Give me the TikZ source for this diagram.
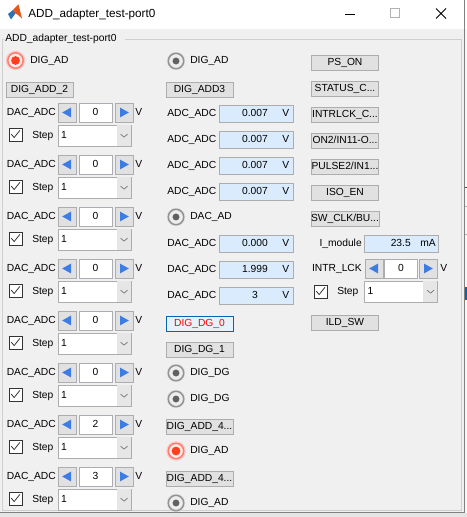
\documentclass[tikz,border=0pt]{standalone}
\usepackage{fontspec}
\setmainfont{Liberation Sans}
\usepackage{tikz}
\usetikzlibrary{positioning}
\usetikzlibrary{matrix}
\definecolor{winbg}{HTML}{F0F0F0}
\definecolor{btnfill}{HTML}{E1E1E1}
\definecolor{btnline}{HTML}{ADADAD}
\definecolor{valfill}{HTML}{D9EBFC}
\definecolor{editline}{HTML}{ABADB3}
\definecolor{arrowblue}{HTML}{3D7DE3}
\definecolor{ddgray}{HTML}{E6E6E6}
\definecolor{radiogray}{HTML}{606060}
\definecolor{radiored}{HTML}{FF401E}
\definecolor{glowred}{HTML}{FF7B6B}
\definecolor{focusblue}{HTML}{0A64AD}
\definecolor{focusfill}{HTML}{E5F1FB}
\definecolor{groupline}{HTML}{CFCFCF}
\definecolor{matblue}{HTML}{2F6FB5}
\definecolor{matorange}{HTML}{E2571C}
\newcommand{\gui}{\fontsize{7.7}{9.2}\selectfont}
\tikzstyle{lbl} = [inner sep=0pt, text height=6pt, text depth=1.8pt, font=\gui]
\tikzstyle{btn} = [draw=btnline, fill=btnfill, minimum width=50.25pt, minimum height=11.25pt, inner sep=0pt, text height=6pt, text depth=1.8pt, font=\gui]
\tikzstyle{spin} = [draw=btnline, fill=btnfill, minimum width=13.5pt, minimum height=14.25pt, inner sep=0pt]
\tikzstyle{edit} = [draw=editline, fill=white, minimum width=24.75pt, minimum height=14.25pt, inner sep=0pt, text height=6pt, text depth=1.8pt, font=\gui]
\tikzstyle{valbox} = [draw=btnline, fill=valfill, minimum width=55.5pt, minimum height=12.75pt, inner sep=0pt]
\tikzstyle{chk} = [draw=black!80, fill=white, minimum size=9.75pt, inner sep=0pt]
\tikzstyle{drop} = [draw=btnline, fill=white, minimum width=54.75pt, minimum height=15.75pt, inner sep=0pt]
\tikzstyle{radio} = [circle, draw=black!42, fill=black!7, line width=1.1pt, preaction={draw=black!14, line width=2.2pt}, minimum size=11.5pt, inner sep=0pt]
\tikzstyle{radioon} = [circle, draw=glowred, fill=red!7, line width=1.1pt, preaction={draw=red!22, line width=3pt}, minimum size=11.5pt, inner sep=0pt]
\tikzstyle{tick} = [black!85, line width=0.55pt]
\tikzstyle{chev} = [black!55, line width=0.5pt]

\begin{document}
\begin{tikzpicture}[x=0.75pt,y=-0.75pt]
        \useasboundingbox (0,0) rectangle (467,517);
        % Window frame
        \fill[winbg] (0,0) rectangle (467,517);
        \fill[white] (0,0) rectangle (467,29);
        \fill[white!97!black] (464,29) rectangle (467,513);
        \fill[black!10] (0,513) rectangle (467,517);
        \draw[black!50] (464.5,0) -- (464.5,512.5) -- (0,512.5);
        \draw[black!70] (465,187) -- (467,187);
        \draw[black!30] (465,206) -- (467,206) (465,234) -- (467,234);
        \fill[focusblue] (465,287) rectangle (467,300);
        % Title bar
        \fill[matblue] (8,14) -- (13,10) -- (15.5,13.5) -- (11,19.5) -- cycle;
        \fill[matorange] (13,10) -- (18.5,4.5) -- (22,18.5) -- (18,15) -- (15.5,13.5) -- cycle;
        \node[anchor=west, inner sep=0pt, font=\fontsize{8.8}{10}\selectfont] (title) at (28,14.5) {ADD\_adapter\_test-port0};
        \draw[black, line width=0.75pt] (345,14.5) -- (355,14.5);
        \draw[black!30] (390.5,8.5) rectangle (399.5,17.5);
        \draw[black, line width=0.6pt] (436,8.5) -- (446,18.5) (436,18.5) -- (446,8.5);
        % Panel
        \draw[groupline] (125,39.5) -- (461.5,39.5) -- (461.5,510.5) -- (2.5,510.5) -- (2.5,39.5) -- (4,39.5);
        \node[lbl, anchor=west] (panel) at (5,39) {ADD\_adapter\_test-port0};

        % Left column
        \node[radioon] (radL) at (15.5,60.5) {};
        \fill[radiored] (radL.center) circle (3.3pt);
        \node[lbl, anchor=west] (radLt) at (30,60.5) {DIG\_AD};
        \node[btn] (addL) at (39.5,89.5) {DIG\_ADD\_2};
        \foreach \v [count=\i from 0, evaluate=\i as \y using 112.5+52*\i] in {0,0,0,0,0,0,2,3} {
            \node[lbl, anchor=west] (dac\i) at (6.5,\y) {DAC\_ADC};
            \node[spin] (dacL\i) at (67,\y) {};
            \node[edit] (dacE\i) at (95.5,\y) {\v};
            \node[spin] (dacR\i) at (124,\y) {};
            \node[lbl, anchor=west] (dacV\i) at (135,\y) {V};
            \fill[arrowblue] ([xshift=-3.6pt]dacL\i.center) -- ++(6.6pt,3.7pt) -- ++(0pt,-7.4pt) -- cycle;
            \fill[arrowblue] ([xshift=3.6pt]dacR\i.center) -- ++(-6.6pt,3.7pt) -- ++(0pt,-7.4pt) -- cycle;
            \node[chk] (chk\i) at (15.5,\y+22) {};
            \draw[tick] ([shift={(-3.2pt,0.3pt)}]chk\i.center) -- ++(2.2pt,-2.6pt) -- ++(4.3pt,5.4pt);
            \node[lbl, anchor=west] (stepT\i) at (32,\y+23.5) {Step};
            \node[drop] (step\i) at (94.5,\y+23) {};
            \fill[ddgray] ([shift={(-0.4pt,-0.4pt)}]step\i.north east) rectangle ([shift={(-11pt,0.4pt)}]step\i.south east);
            \draw[chev] ([shift={(-8pt,1pt)}]step\i.east) -- ++(2.6pt,-2.2pt) -- ++(2.6pt,2.2pt);
            \node[lbl, anchor=west] (stepV\i) at ([xshift=2.4pt]step\i.west) {1};
        }

        % Middle column
        \node[radio] (radM) at (176,61) {};
        \fill[radiogray] (radM.center) circle (2.6pt);
        \node[lbl, anchor=west] (radMt) at (190,61) {DIG\_AD};
        \node[btn] (addM) at (199.5,89.5) {DIG\_ADD3};
        \foreach \i in {0,...,3} {
            \node[lbl, anchor=west] (adc\i) at (167,113.5+26*\i) {ADC\_ADC};
            \node[valbox] (adcB\i) at (256,113.5+26*\i) {};
            \node[lbl] (adcN\i) at (255,113.5+26*\i) {0.007};
            \node[lbl, anchor=east] (adcU\i) at (289.5,113.5+26*\i) {V};
        }
        \foreach \v [count=\i from 0] in {0.000,1.999,3} {
            \node[lbl, anchor=west] (dacM\i) at (167,243.5+26*\i) {DAC\_ADC};
            \node[valbox] (dacB\i) at (256,243.5+26*\i) {};
            \node[lbl] (dacN\i) at (255,243.5+26*\i) {\v};
            \node[lbl, anchor=east] (dacU\i) at (289.5,243.5+26*\i) {V};
        }
        \foreach \n/\y/\t in {radDA/217/DAC\_AD, radDG1/373/DIG\_DG, radDG2/399/DIG\_DG, radAD2/503/DIG\_AD} {
            \node[radio] (\n) at (176,\y) {};
            \fill[radiogray] (\n.center) circle (2.6pt);
            \node[lbl, anchor=west] (\n t) at (190,\y) {\t};
        }
        \node[radioon] (radAD1) at (176,451) {};
        \fill[radiored] (radAD1.center) circle (3.3pt);
        \node[lbl, anchor=west] (radAD1t) at (190,451) {DIG\_AD};
        \node[btn, draw=focusblue, fill=focusfill, text=red] (dg0) at (199.5,323.5) {DIG\_DG\_0};
        \node[btn] (dg1) at (199.5,349.5) {DIG\_DG\_1};
        \node[btn] (add4a) at (199.5,426.5) {DIG\_ADD\_4...};
        \node[btn] (add4b) at (199.5,478.5) {DIG\_ADD\_4...};

        % Right column
        \matrix (mR) [matrix of nodes, nodes={btn}, row sep=7.85pt, inner sep=0pt, anchor=north] at (345,54.8) {
            PS\_ON \\
            STATUS\_C... \\
            INTRLCK\_C... \\
            ON2/IN11-O... \\
            PULSE2/IN1... \\
            ISO\_EN \\
            SW\_CLK/BU... \\
        };
        \node[lbl, anchor=east] (imod) at (362,244) {I\_module};
        \node[valbox] (imodB) at (401,244) {};
        \node[lbl, anchor=east] (imodU) at (436,244) {mA};
        \node[lbl, anchor=east] (imodN) at (411,244) {23.5};
        \node[lbl, anchor=east] (intr) at (362,269) {INTR\_LCK};
        \node[spin] (intrL) at (374,268.5) {};
        \node[edit] (intrE) at (401,268.5) {0};
        \node[spin] (intrR) at (428,268.5) {};
        \node[lbl, anchor=west] (intrV) at (440,269) {V};
        \fill[arrowblue] ([xshift=-3.6pt]intrL.center) -- ++(6.6pt,3.7pt) -- ++(0pt,-7.4pt) -- cycle;
        \fill[arrowblue] ([xshift=3.6pt]intrR.center) -- ++(-6.6pt,3.7pt) -- ++(0pt,-7.4pt) -- cycle;
        \node[chk] (chkR) at (320.5,291.5) {};
        \draw[tick] ([shift={(-3.2pt,0.3pt)}]chkR.center) -- ++(2.2pt,-2.6pt) -- ++(4.3pt,5.4pt);
        \node[lbl, anchor=west] (stepRT) at (337,292) {Step};
        \node[drop] (stepR) at (401,291.5) {};
        \fill[ddgray] ([shift={(-0.4pt,-0.4pt)}]stepR.north east) rectangle ([shift={(-11pt,0.4pt)}]stepR.south east);
        \draw[chev] ([shift={(-8pt,1pt)}]stepR.east) -- ++(2.6pt,-2.2pt) -- ++(2.6pt,2.2pt);
        \node[lbl, anchor=west] (stepRV) at ([xshift=2.4pt]stepR.west) {1};
        \node[btn] (ild) at (345,323) {ILD\_SW};
\end{tikzpicture}
\end{document}
